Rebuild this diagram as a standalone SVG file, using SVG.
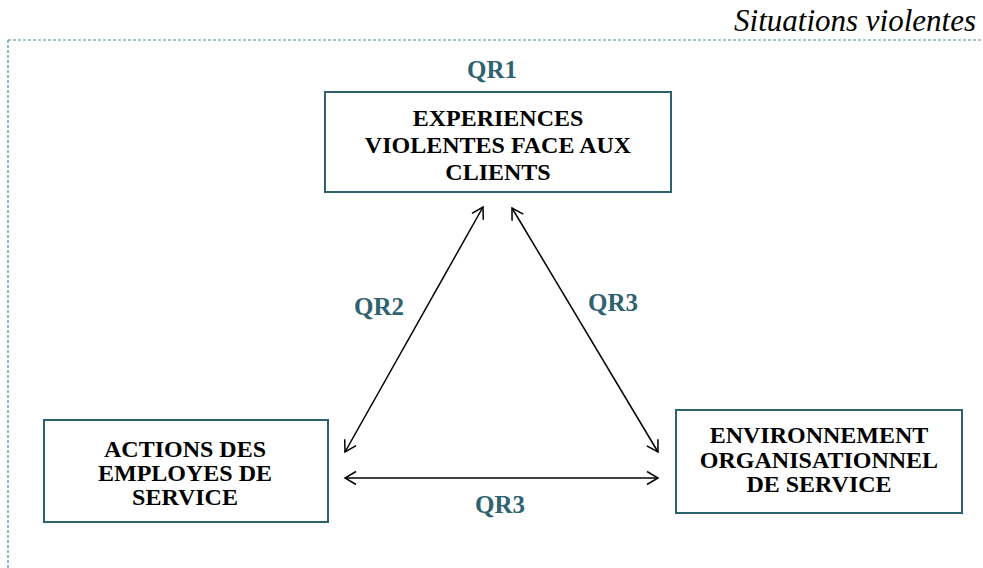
<svg xmlns="http://www.w3.org/2000/svg" width="983" height="568" viewBox="0 0 983 568">
<style>
.box{fill:#fff;stroke:#2f6070;stroke-width:2}
.bt{font-weight:bold;font-size:24px;fill:#000;text-anchor:middle}
.qr{font-weight:bold;font-size:25px;fill:#2e6270;text-anchor:middle}
.conn{stroke:#000;stroke-width:1.5;fill:none;marker-start:url(#ah);marker-end:url(#ah)}
.frame{stroke:#4a8c9c;stroke-width:1.2;stroke-dasharray:3 2;fill:none}
.title{font-style:italic;font-size:31px;fill:#000;text-anchor:end}
</style>
<defs>
<marker id="ah" viewBox="-13 -8 15 16" refX="0" refY="0" markerWidth="15" markerHeight="16" markerUnits="userSpaceOnUse" orient="auto-start-reverse">
<path d="M-11,-6.5 L0,0 L-11,6.5" fill="none" stroke="#000" stroke-width="1.5"/>
</marker>
</defs>
<rect width="983" height="568" fill="#fff"/>
<g id="frame">
<path class="frame" d="M8,40 H983 M8,40 V568"/>
<text class="title" font-family="Liberation Serif" x="976" y="31">Situations violentes</text>
</g>
<g id="connectors">
<line class="conn" x1="483" y1="207" x2="345" y2="452"/>
<line class="conn" x1="512" y1="208" x2="658" y2="452"/>
<line class="conn" x1="345" y1="478" x2="658" y2="478"/>
<text class="qr" font-family="Liberation Serif" x="379" y="315">QR2</text>
<text class="qr" font-family="Liberation Serif" x="613" y="311">QR3</text>
<text class="qr" font-family="Liberation Serif" x="500" y="513">QR3</text>
</g>
<g id="node-experiences">
<text class="qr" font-family="Liberation Serif" x="492" y="78">QR1</text>
<rect class="box" x="325" y="92" width="346" height="100"/>
<text class="bt" font-family="Liberation Serif" x="498" y="126">EXPERIENCES</text>
<text class="bt" font-family="Liberation Serif" x="498" y="153">VIOLENTES FACE AUX</text>
<text class="bt" font-family="Liberation Serif" x="498" y="180">CLIENTS</text>
</g>
<g id="node-actions">
<rect class="box" x="44" y="420" width="284" height="102"/>
<text class="bt" font-family="Liberation Serif" x="185" y="457">ACTIONS DES</text>
<text class="bt" font-family="Liberation Serif" x="185" y="481">EMPLOYES DE</text>
<text class="bt" font-family="Liberation Serif" x="185" y="505">SERVICE</text>
</g>
<g id="node-environnement">
<rect class="box" x="676" y="410" width="286" height="103"/>
<text class="bt" font-family="Liberation Serif" x="819" y="443">ENVIRONNEMENT</text>
<text class="bt" font-family="Liberation Serif" x="819" y="468">ORGANISATIONNEL</text>
<text class="bt" font-family="Liberation Serif" x="819" y="492">DE SERVICE</text>
</g>
</svg>
